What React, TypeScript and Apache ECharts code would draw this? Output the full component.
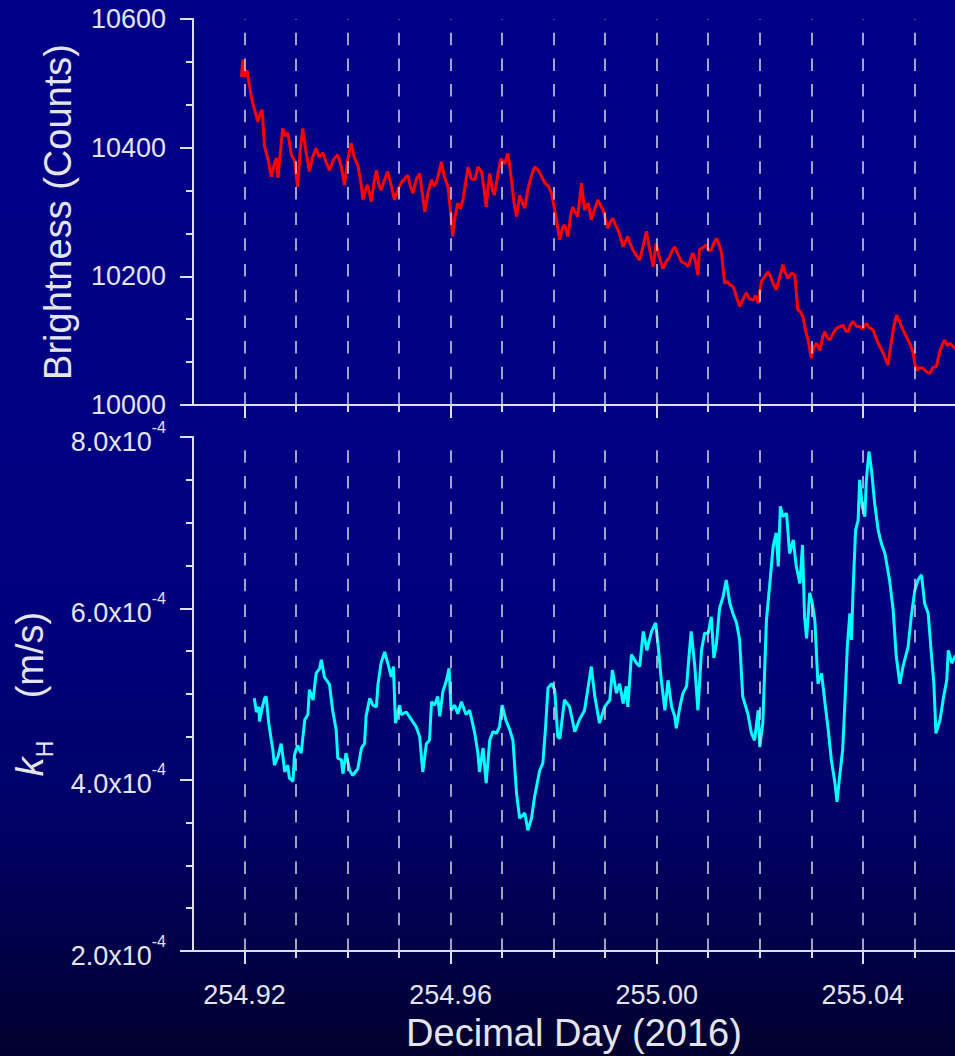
import React, { useEffect, useRef } from "react";
import * as echarts from "echarts";

// ---------- data ----------
const brightDays = [
  254.9194, 254.9197, 254.92, 254.9205, 254.921, 254.9213, 254.9216, 254.9221, 254.9226, 254.923,
  254.9234, 254.9239, 254.9245, 254.9252, 254.9257, 254.9262, 254.9265, 254.927, 254.9274, 254.9279,
  254.9284, 254.9291, 254.9297, 254.9303, 254.9308, 254.9313, 254.9319, 254.9326, 254.9332, 254.9339,
  254.9345, 254.9352, 254.9358, 254.9365, 254.9373, 254.9381, 254.9388, 254.9394, 254.94, 254.9407,
  254.9413, 254.942, 254.9425, 254.943, 254.9435, 254.9439, 254.9446, 254.9451, 254.9456, 254.946,
  254.9465, 254.9472, 254.9478, 254.9485, 254.9491, 254.9498, 254.9504, 254.9511, 254.9517, 254.9522,
  254.9527, 254.9533, 254.954, 254.9545, 254.955, 254.9556, 254.9563, 254.9568, 254.9572, 254.9577,
  254.9582, 254.9588, 254.9595, 254.96, 254.9604, 254.9609, 254.9614, 254.9619, 254.9624, 254.9629,
  254.9634, 254.964, 254.9647, 254.9653, 254.966, 254.9665, 254.9669, 254.9673, 254.9676, 254.9681,
  254.9685, 254.9692, 254.9698, 254.9705, 254.9711, 254.9715, 254.9718, 254.9723, 254.9728, 254.9734,
  254.9739, 254.9744, 254.975, 254.9757, 254.9763, 254.977, 254.9777, 254.9783, 254.979, 254.9796,
  254.9802, 254.9807, 254.9812, 254.9817, 254.9821, 254.9828, 254.9833, 254.9837, 254.9842, 254.9847,
  254.9854, 254.986, 254.9867, 254.9873, 254.988, 254.9886, 254.9891, 254.9896, 254.9905, 254.991,
  254.9915, 254.992, 254.9925, 254.993, 254.9935, 254.994, 254.9944, 254.9949, 254.9954, 254.9961,
  254.9967, 254.9973, 254.998, 254.9987, 254.9993, 254.9999, 255.0005, 255.0012, 255.0018, 255.0025,
  255.003, 255.0035, 255.0041, 255.0048, 255.0055, 255.0061, 255.0066, 255.007, 255.0075, 255.008,
  255.0083, 255.009, 255.0096, 255.0101, 255.0106, 255.0111, 255.0116, 255.0121, 255.0126, 255.0129,
  255.0132, 255.0137, 255.0142, 255.0147, 255.0151, 255.0156, 255.0161, 255.0168, 255.0174, 255.018,
  255.0187, 255.0192, 255.0197, 255.0203, 255.021, 255.0216, 255.0221, 255.0226, 255.0232, 255.0239,
  255.0245, 255.025, 255.0255, 255.0262, 255.0268, 255.0274, 255.0279, 255.0284, 255.0289, 255.0294,
  255.03, 255.0305, 255.031, 255.0317, 255.0322, 255.0326, 255.0331, 255.0336, 255.0343, 255.0349,
  255.0356, 255.0362, 255.0367, 255.0372, 255.0376, 255.0381, 255.0388, 255.0394, 255.04, 255.0407,
  255.0413, 255.042, 255.0425, 255.043, 255.0435, 255.044, 255.0445, 255.0449, 255.0453, 255.0456,
  255.0461, 255.0466, 255.0471, 255.0475, 255.0481, 255.0488, 255.0493, 255.0498, 255.0501, 255.0504,
  255.051, 255.0517, 255.0523, 255.053, 255.0536, 255.0543, 255.055, 255.0555, 255.0559, 255.0564,
  255.0569, 255.0574, 255.0579, 255.0585,
];
const brightness = [
  10510, 10537, 10510, 10520, 10495, 10480, 10469, 10455, 10440, 10452,
  10459, 10401, 10385, 10355, 10372, 10384, 10353, 10395, 10430, 10418,
  10423, 10389, 10380, 10339, 10395, 10430, 10395, 10363, 10385, 10399,
  10385, 10392, 10378, 10365, 10382, 10389, 10370, 10342, 10380, 10407,
  10385, 10373, 10350, 10319, 10335, 10342, 10316, 10345, 10365, 10345,
  10334, 10350, 10363, 10340, 10319, 10335, 10345, 10352, 10357, 10340,
  10329, 10350, 10360, 10330, 10300, 10330, 10350, 10340, 10345, 10360,
  10378, 10355, 10339, 10300, 10262, 10295, 10314, 10305, 10319, 10345,
  10370, 10352, 10350, 10370, 10363, 10335, 10308, 10340, 10360, 10335,
  10326, 10360, 10383, 10375, 10391, 10370, 10350, 10315, 10293, 10326,
  10315, 10306, 10335, 10357, 10370, 10365, 10355, 10345, 10340, 10329,
  10303, 10280, 10257, 10275, 10280, 10262, 10295, 10308, 10300, 10293,
  10345, 10303, 10314, 10288, 10305, 10319, 10310, 10303, 10275, 10285,
  10290, 10280, 10272, 10260, 10246, 10255, 10262, 10250, 10241, 10232,
  10225, 10245, 10270, 10240, 10215, 10251, 10230, 10212, 10222, 10230,
  10240, 10246, 10235, 10223, 10220, 10215, 10228, 10236, 10225, 10202,
  10241, 10245, 10249, 10240, 10241, 10252, 10259, 10250, 10236, 10210,
  10189, 10192, 10187, 10185, 10179, 10165, 10153, 10165, 10174, 10165,
  10163, 10170, 10158, 10192, 10200, 10207, 10200, 10189, 10179, 10200,
  10218, 10205, 10197, 10205, 10202, 10148, 10145, 10137, 10115, 10101,
  10073, 10090, 10096, 10085, 10105, 10114, 10105, 10101, 10112, 10119,
  10122, 10124, 10115, 10114, 10125, 10130, 10122, 10122, 10118, 10127,
  10120, 10117, 10105, 10096, 10088, 10080, 10070, 10062, 10085, 10101,
  10125, 10140, 10130, 10122, 10112, 10101, 10092, 10080, 10065, 10054,
  10058, 10057, 10052, 10049, 10058, 10060, 10085, 10095, 10101, 10092,
  10096, 10092, 10088, 10090,
];

const kDays = [
  254.9219, 254.9223, 254.9228, 254.9229, 254.9234, 254.9239, 254.9242, 254.9247, 254.9252, 254.9255,
  254.9258, 254.9265, 254.9271, 254.9275, 254.9278, 254.9284, 254.9287, 254.9294, 254.9297, 254.9303,
  254.931, 254.9317, 254.9323, 254.9326, 254.9333, 254.9339, 254.9346, 254.9349, 254.9355, 254.9365,
  254.9371, 254.9378, 254.9381, 254.9388, 254.9391, 254.9397, 254.9404, 254.941, 254.942, 254.9427,
  254.9433, 254.9436, 254.9443, 254.9449, 254.9456, 254.9459, 254.9465, 254.9472, 254.9478, 254.9485,
  254.9489, 254.9493, 254.9501, 254.9504, 254.9514, 254.9524, 254.9533, 254.954, 254.9546, 254.9553,
  254.9559, 254.9563, 254.9569, 254.9575, 254.9579, 254.9585, 254.9592, 254.9597, 254.9601, 254.9608,
  254.9614, 254.9621, 254.963, 254.9637, 254.9647, 254.9653, 254.9656, 254.9663, 254.9669, 254.9676,
  254.9682, 254.9689, 254.9695, 254.97, 254.9707, 254.9715, 254.9721, 254.9728, 254.9734, 254.9744,
  254.975, 254.9757, 254.9763, 254.9773, 254.9779, 254.9784, 254.9789, 254.9796, 254.9802, 254.9808,
  254.9812, 254.9821, 254.9831, 254.9841, 254.985, 254.986, 254.987, 254.9873, 254.988, 254.9889,
  254.9899, 254.9909, 254.9914, 254.9922, 254.9928, 254.9935, 254.9941, 254.9944, 254.9951, 254.9961,
  254.9967, 254.9974, 254.9981, 254.999, 254.9998, 255.0003, 255.0009, 255.0016, 255.0022, 255.0029,
  255.0035, 255.0038, 255.0045, 255.0051, 255.0058, 255.0064, 255.0067, 255.0074, 255.008, 255.0087,
  255.0093, 255.01, 255.0106, 255.0111, 255.0116, 255.0122, 255.0129, 255.0135, 255.0142, 255.0148,
  255.0155, 255.0161, 255.0167, 255.0177, 255.0184, 255.019, 255.0197, 255.02, 255.0206, 255.0213,
  255.0219, 255.0226, 255.0232, 255.0236, 255.024, 255.0245, 255.0252, 255.0258, 255.0265, 255.0271,
  255.0278, 255.0283, 255.0287, 255.0291, 255.0297, 255.0302, 255.0307, 255.0313, 255.032, 255.0326,
  255.0333, 255.0339, 255.0346, 255.035, 255.0355, 255.0361, 255.0365, 255.037, 255.0375, 255.0378,
  255.0381, 255.0386, 255.0391, 255.0394, 255.0399, 255.0404, 255.0407, 255.0412, 255.0417, 255.0423,
  255.043, 255.0436, 255.0443, 255.0452, 255.0459, 255.0465, 255.0472, 255.0478, 255.0488, 255.0494,
  255.0501, 255.0507, 255.0514, 255.052, 255.0527, 255.0533, 255.0538, 255.0542, 255.055, 255.0557,
  255.0563, 255.0566, 255.0573, 255.0579, 255.0585,
];
// k_H in units of 1e-4 m/s
const kH_e4 = [
  4.95, 4.79, 4.85, 4.68, 4.83, 4.95, 4.97, 4.66, 4.46, 4.35,
  4.17, 4.27, 4.42, 4.25, 4.09, 4.17, 4.02, 3.98, 4.29, 4.4,
  4.31, 4.7, 4.76, 5.05, 4.93, 5.24, 5.3, 5.4, 5.2, 5.11,
  4.81, 4.58, 4.25, 4.23, 4.07, 4.31, 4.11, 4.05, 4.13, 4.37,
  4.42, 4.74, 4.95, 4.87, 4.85, 5.11, 5.36, 5.49, 5.36, 5.2,
  5.32, 4.66, 4.87, 4.76, 4.79, 4.7, 4.62, 4.5, 4.09, 4.42,
  4.46, 4.91, 4.87, 4.97, 4.74, 5.03, 5.16, 5.3, 4.81, 4.87,
  4.77, 4.91, 4.76, 4.81, 4.54, 4.31, 4.09, 4.37, 3.96, 4.46,
  4.56, 4.54, 4.62, 4.87, 4.7, 4.58, 4.46, 3.84, 3.55, 3.61,
  3.41, 3.55, 3.8, 4.11, 4.19, 4.58, 5.07, 5.12, 5.05, 4.5,
  4.48, 4.93, 4.85, 4.56, 4.7, 4.81, 5.2, 5.32, 4.97, 4.66,
  4.85, 4.93, 5.28, 5.01, 5.12, 4.89, 5.09, 4.85, 5.46, 5.36,
  5.32, 5.73, 5.51, 5.73, 5.83, 5.55, 5.16, 4.81, 5.16, 4.85,
  4.74, 4.6, 4.85, 5.01, 5.09, 5.53, 5.73, 5.32, 4.81, 5.51,
  5.71, 5.71, 5.9, 5.42, 5.59, 6.0, 6.14, 6.33, 6.06, 5.94,
  5.83, 5.63, 4.97, 4.77, 4.54, 4.46, 4.81, 4.38, 4.66, 5.86,
  6.25, 6.72, 6.88, 6.49, 7.19, 7.07, 7.11, 6.64, 6.8, 6.49,
  6.29, 6.74, 5.9, 5.65, 6.18, 6.06, 5.86, 5.12, 5.24, 4.93,
  4.58, 4.23, 3.96, 3.74, 4.03, 4.35, 4.85, 5.55, 5.94, 5.63,
  6.18, 6.91, 7.03, 7.5, 7.19, 7.07, 7.5, 7.83, 7.61, 7.23,
  6.91, 6.76, 6.64, 6.33, 5.98, 5.44, 5.12, 5.32, 5.55, 5.9,
  6.21, 6.33, 6.39, 6.06, 5.94, 5.48, 5.12, 4.54, 4.7, 4.97,
  5.16, 5.51, 5.36, 5.44, 5.45,
];

const xMajorTicks = [254.92, 254.96, 255.0, 255.04];
const xMinorTicks = [254.93, 254.94, 254.95, 254.97, 254.98, 254.99, 255.01, 255.02, 255.03, 255.05];
const dashedDays = [
  254.92, 254.93, 254.94, 254.95, 254.96, 254.97, 254.98,
  254.99, 255.0, 255.01, 255.02, 255.03, 255.04, 255.05,
];
const brightRange = [10000, 10600];
const brightStep = 200;
const kRange = [2e-4, 8e-4];
const kStep = 2e-4;
const dayRange = [254.91, 255.0579];

// ---------- styles ----------
const FONT = "'Liberation Sans', Arial, Helvetica, sans-serif";
const TXT = "#e4e4ec";
const AXIS = "#dedee6";

function xAxisPair(gridIndex: number, withLabels: boolean) {
  const base = {
    type: "value",
    gridIndex,
    min: dayRange[0],
    max: dayRange[1],
    position: "bottom",
    splitLine: { show: false },
  };
  const major: any = {
    ...base,
    axisLine: { show: true, onZero: false, lineStyle: { color: AXIS, width: 2 } },
    axisTick: { show: true, customValues: xMajorTicks, length: 13, lineStyle: { color: AXIS, width: 2 } },
    axisLabel: withLabels
      ? {
          show: true,
          customValues: xMajorTicks,
          formatter: (v: number) => v.toFixed(2),
          color: TXT,
          fontSize: 27,
          lineHeight: 30,
          fontFamily: FONT,
          margin: 29,
        }
      : { show: false },
  };
  if (withLabels) {
    major.name = "Decimal Day (2016)";
    major.nameLocation = "middle";
    major.nameGap = 59;
    major.nameTextStyle = { color: TXT, fontSize: 38, lineHeight: 44, fontFamily: FONT };
  }
  const minor: any = {
    ...base,
    axisLine: { show: false, onZero: false },
    axisTick: { show: true, customValues: xMinorTicks, length: 7, lineStyle: { color: AXIS, width: 2 } },
    axisLabel: { show: false },
  };
  return [major, minor];
}

function dashLines(xAxisIndex: number, yAxisIndex: number) {
  return {
    type: "line",
    xAxisIndex,
    yAxisIndex,
    data: [],
    z: 1,
    silent: true,
    markLine: {
      silent: true,
      symbol: ["none", "none"],
      label: { show: false },
      lineStyle: { color: "#d6d6e4", width: 1.5, type: [12.5, 13.2], dashOffset: 0 },
      data: dashedDays.map((d) => ({ xAxis: d })),
    },
  };
}

export default function App() {
  const ref = useRef<HTMLDivElement>(null);

  useEffect(() => {
    if (!ref.current) return;
    const chart = echarts.init(ref.current, undefined, { renderer: "svg" });

    const brightData = brightDays.map((d, i) => [d, brightness[i]]);
    const kData = kDays.map((d, i) => [d, kH_e4[i] * 1e-4]);

    const option: any = {
      animation: false,
      backgroundColor: {
        type: "linear",
        x: 0,
        y: 0,
        x2: 0,
        y2: 1,
        colorStops: [
          { offset: 0, color: "#000086" },
          { offset: 0.55, color: "#000080" },
          { offset: 0.78, color: "#000066" },
          { offset: 1, color: "#00002e" },
        ],
      },
      grid: [
        { left: 193, top: 19, width: 762, height: 386 },
        { left: 193, top: 437, width: 762, height: 514 },
      ],
      xAxis: [...xAxisPair(0, false), ...xAxisPair(1, true)],
      yAxis: [
        {
          type: "value",
          gridIndex: 0,
          min: brightRange[0],
          max: brightRange[1],
          interval: brightStep,
          axisLine: { show: true, lineStyle: { color: AXIS, width: 2 } },
          axisTick: { show: true, length: 13, lineStyle: { color: AXIS, width: 2 } },
          minorTick: { show: true, splitNumber: 3, length: 7, lineStyle: { color: AXIS, width: 2 } },
          splitLine: { show: false },
          axisLabel: {
            color: TXT,
            fontSize: 27,
            fontFamily: FONT,
            margin: 27,
            formatter: (v: number) => String(Math.round(v)),
          },
          name: "Brightness (Counts)",
          nameLocation: "middle",
          nameRotate: 90,
          nameGap: 108,
          nameTextStyle: { color: TXT, fontSize: 38, lineHeight: 44, fontFamily: FONT },
        },
        {
          type: "value",
          gridIndex: 1,
          min: kRange[0],
          max: kRange[1],
          interval: kStep,
          axisLine: { show: true, lineStyle: { color: AXIS, width: 2 } },
          axisTick: { show: true, length: 13, lineStyle: { color: AXIS, width: 2 } },
          minorTick: { show: true, splitNumber: 4, length: 7, lineStyle: { color: AXIS, width: 2 } },
          splitLine: { show: false },
          axisLabel: {
            margin: 27,
            formatter: (v: number) => `{b|${(v * 1e4).toFixed(1)}x10}{s|-4}`,
            rich: {
              b: { color: TXT, fontSize: 27, lineHeight: 36, fontFamily: FONT, verticalAlign: "bottom" },
              s: { color: TXT, fontSize: 16, lineHeight: 16, fontFamily: FONT, verticalAlign: "top" },
            },
          },
          name: "{k|k}{h|H}{t|    (m/s)}",
          nameLocation: "middle",
          nameRotate: 90,
          nameGap: 137,
          nameTextStyle: {
            rich: {
              k: { color: TXT, fontSize: 38, fontStyle: "italic", lineHeight: 53, fontFamily: FONT, verticalAlign: "middle" },
              h: { color: TXT, fontSize: 23, lineHeight: 22, fontFamily: FONT, verticalAlign: "bottom" },
              t: { color: TXT, fontSize: 38, lineHeight: 53, fontFamily: FONT, verticalAlign: "middle" },
            },
          },
        },
      ],
      series: [
        dashLines(0, 0),
        dashLines(2, 1),
        {
          name: "Brightness",
          type: "line",
          xAxisIndex: 0,
          yAxisIndex: 0,
          data: brightData,
          showSymbol: false,
          symbol: "none",
          z: 3,
          lineStyle: { color: "#ff0000", width: 3 },
          clip: true,
        },
        {
          name: "kH",
          type: "line",
          xAxisIndex: 2,
          yAxisIndex: 1,
          data: kData,
          showSymbol: false,
          symbol: "none",
          z: 3,
          lineStyle: { color: "#00ffff", width: 3 },
          clip: true,
        },
      ],
    };

    chart.setOption(option);
    return () => chart.dispose();
  }, []);

  return (
    <div
      ref={ref}
      style={{ position: "absolute", left: 0, top: 0, width: 955, height: 1056 }}
    />
  );
}
